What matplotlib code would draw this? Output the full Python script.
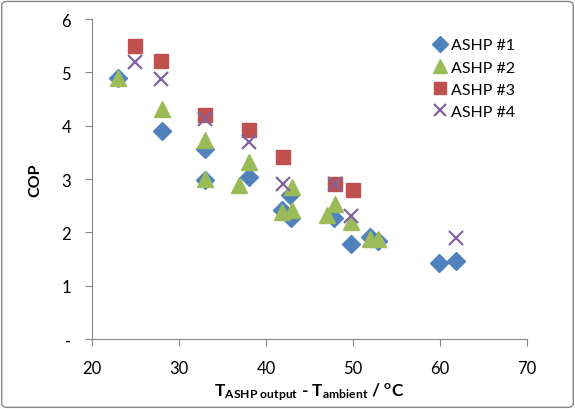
import matplotlib
matplotlib.use('Agg')
import matplotlib.pyplot as plt
from matplotlib.patches import FancyBboxPatch

plt.rcParams['font.family'] = ['Lato', 'DejaVu Sans']
plt.rcParams['mathtext.fontset'] = 'custom'
plt.rcParams['mathtext.rm'] = 'Lato'
plt.rcParams['mathtext.bf'] = 'Lato:bold'
plt.rcParams['mathtext.it'] = 'Lato:italic'

# data
ashp1_x = [23, 28, 33, 33, 38, 41.8, 42.8, 42.9, 47.8, 49.8, 52, 52.9, 59.9, 61.8]
ashp1_y = [4.9, 3.9, 3.57, 2.98, 3.04, 2.42, 2.7, 2.27, 2.27, 1.78, 1.92, 1.84, 1.42, 1.47]

ashp2_x = [23, 28, 33, 33, 36.9, 38, 41.8, 43, 43, 47, 47.9, 49.8, 52, 52.9]
ashp2_y = [4.9, 4.31, 3.73, 3.0, 2.88, 3.32, 2.38, 2.42, 2.85, 2.32, 2.53, 2.2, 1.88, 1.88]

ashp3_x = [24.9, 27.9, 33, 38, 41.9, 47.9, 50]
ashp3_y = [5.5, 5.21, 4.2, 3.91, 3.41, 2.91, 2.8]

ashp4_x = [24.9, 27.9, 33, 38, 42, 47.9, 49.8, 61.8]
ashp4_y = [5.19, 4.88, 4.12, 3.69, 2.9, 2.9, 2.31, 1.9]

series_names = ['ASHP #1', 'ASHP #2', 'ASHP #3', 'ASHP #4']
y_ticks = [0, 1, 2, 3, 4, 5, 6]
y_tick_labels = ['-', '1', '2', '3', '4', '5', '6']
x_ticks = [20, 30, 40, 50, 60, 70]

fig = plt.figure(figsize=(5.75, 4.1), dpi=100)
ax = fig.add_axes([0.16, 0.1707, 0.7565, 0.7805])

ax.plot(ashp1_x, ashp1_y, 'D', color='#4F81BD', ms=9, mec='#4F81BD', label=series_names[0])
ax.plot(ashp2_x, ashp2_y, '^', color='#9BBB59', ms=12, mec='#9BBB59', label=series_names[1])
ax.plot(ashp3_x, ashp3_y, 's', color='#C0504D', ms=10.5, mec='#C0504D', label=series_names[2])
ax.plot(ashp4_x, ashp4_y, 'x', color='#8064A2', ms=10, mew=1.6, label=series_names[3])

ax.set_xlim(20, 70)
ax.set_ylim(0, 6)
ax.set_xticks(x_ticks)
ax.set_yticks(y_ticks)
ax.set_yticklabels(y_tick_labels)
ax.tick_params(axis='both', labelsize=12, color='#868686', length=5, width=0.8)
ax.tick_params(axis='x', pad=10)
ax.tick_params(axis='y', pad=10)
for s in ['top', 'right']:
    ax.spines[s].set_visible(False)
for s in ['left', 'bottom']:
    ax.spines[s].set_color('#868686')
    ax.spines[s].set_linewidth(0.8)

ax.set_ylabel('COP', fontsize=11.5, fontweight='bold', labelpad=14)
ax.set_xlabel(r'$\mathbf{T_{ASHP\ output}}$ - $\mathbf{T_{ambient}}$ / $^{\mathbf{o}}$C',
              fontsize=12.5, fontweight='bold', labelpad=3)

ax.legend(loc='upper left', bbox_to_anchor=(0.745, 0.985), frameon=False, fontsize=11.5,
          handletextpad=0.1, handlelength=1.2, labelspacing=0.5, numpoints=1,
          markerscale=0.85)

border = FancyBboxPatch((0.003, 0.004), 0.994, 0.99, boxstyle='round,pad=0,rounding_size=0.01',
                        transform=fig.transFigure, fill=False, edgecolor='#868686', linewidth=1)
fig.patches.append(border)

fig.savefig('out.png', dpi=100)
